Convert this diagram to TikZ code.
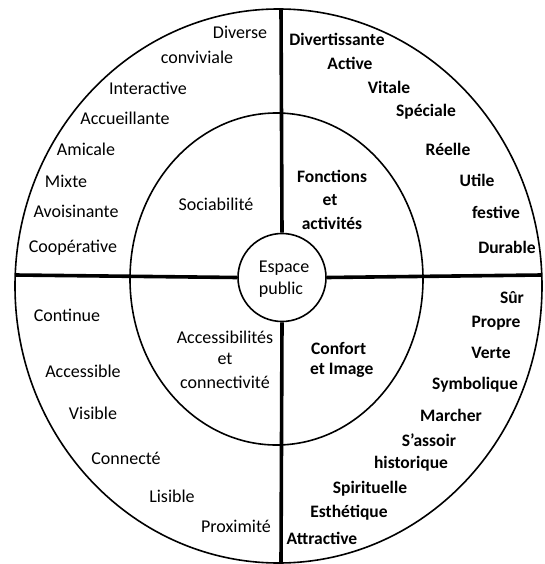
\documentclass[tikz,border=0pt]{standalone}
\usepackage{fontspec}
\setmainfont{Carlito}
\begin{document}
\begin{tikzpicture}[x=1pt,y=-1pt,
  reg/.style={font=\fontsize{18}{22}\selectfont, inner sep=0pt},
  bld/.style={font=\fontsize{17.5}{22}\bfseries\selectfont, inner sep=0pt},
  ring/.style={line width=1.6pt},
  axis/.style={line width=3.6pt},
  hub/.style={circle, draw, line width=1.6pt, fill=white, minimum size=88pt, inner sep=0pt}]
\useasboundingbox (0,0) rectangle (545,564);
% ellipses
\draw[ring] (278.5,286) ellipse [x radius=263.5pt, y radius=277pt];
\draw[ring] (276.5,279) ellipse [x radius=146.5pt, y radius=166pt];
% axis end points
\coordinate (top) at (281,9);
\coordinate (bot) at (281,563);
\coordinate (lft) at (15.2,275);
\coordinate (rgt) at (541.8,275);
\node[hub] (hub) at (282,277.5) {};
\draw[axis] (top) -- (hub.north);
\draw[axis] (hub.south) -- (bot);
\draw[axis] (lft) -- (hub.west);
\draw[axis] (hub.east) -- (rgt);
\node[reg] (esp) at (284,268) {Espace};
\node[reg] (pub) at (281,290) {public};
% top-left
\node[reg] (t1) at (240,32) {Diverse};
\node[reg] (t2) at (197,57) {conviviale};
\node[reg] (t3) at (148,88) {Interactive};
\node[reg] (t4) at (125,118) {Accueillante};
\node[reg] (t5) at (86,149) {Amicale};
\node[reg] (t6) at (66,181) {Mixte};
\node[reg] (t7) at (76,211) {Avoisinante};
\node[reg] (t8) at (73,248) {Coopérative};
\node[reg] (soc) at (216,204) {Sociabilité};
% top-right
\node[bld] (r1) at (337,39) {Divertissante};
\node[bld] (r2) at (350,63) {Active};
\node[bld] (r3) at (389,87) {Vitale};
\node[bld] (r4) at (426,112) {Spéciale};
\node[bld] (r5) at (448,149) {Réelle};
\node[bld] (r6) at (477,180) {Utile};
\node[bld] (r7) at (496,212) {festive};
\node[bld] (r8) at (507,247) {Durable};
\node[bld] (f1) at (332,176) {Fonctions};
\node[bld] (f2) at (330,200) {et};
\node[bld] (f3) at (332,223) {activités};
% bottom-left
\node[reg] (b1) at (67,315) {Continue};
\node[reg] (b2) at (83,371) {Accessible};
\node[reg] (b3) at (93,413) {Visible};
\node[reg] (b4) at (126,458) {Connecté};
\node[reg] (b5) at (172,496) {Lisible};
\node[reg] (b6) at (236,526) {Proximité};
\node[reg] (a1) at (225,337) {Accessibilités};
\node[reg] (a2) at (225,359) {et};
\node[reg] (a3) at (225,382) {connectivité};
% bottom-right
\node[bld] (s1) at (512,298) {Sûr};
\node[bld] (s2) at (496,323) {Propre};
\node[bld] (s3) at (491,353) {Verte};
\node[bld] (s4) at (475,385) {Symbolique};
\node[bld] (s5) at (451,415) {Marcher};
\node[bld] (s6) at (429,440) {S’assoir};
\node[bld] (s7) at (411,464) {historique};
\node[bld] (s8) at (370,489) {Spirituelle};
\node[bld] (s9) at (349,513) {Esthétique};
\node[bld] (s10) at (322,538) {Attractive};
\node[bld, anchor=west] (c1) at (311,348) {Confort};
\node[bld, anchor=west] (c2) at (310,370) {et Image};
\end{tikzpicture}
\end{document}
